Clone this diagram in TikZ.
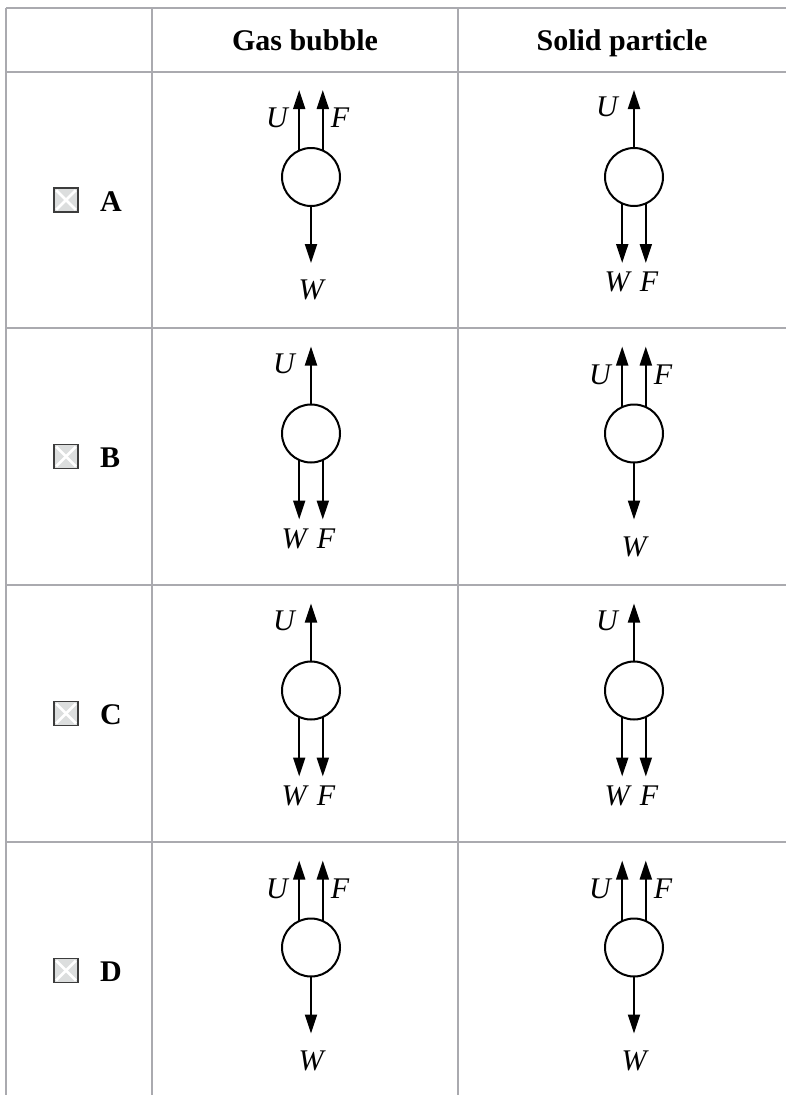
\documentclass[tikz,border=0pt]{standalone}
\usepackage{fontspec}
\setmainfont{Liberation Serif}
\usetikzlibrary{arrows.meta}

\definecolor{rulegray}{RGB}{170,170,175}
\definecolor{boxgray}{RGB}{220,222,222}
\definecolor{boxedge}{RGB}{60,60,60}

% two forces up (U, F), weight down
\newcommand{\updiagram}[3]{%
  \node[ball] (#1) at (#2,#3) {};
  \coordinate (#1U) at (#2-12,#3-87);
  \coordinate (#1F) at (#2+12,#3-87);
  \coordinate (#1W) at (#2,#3+86);
  \draw[force] (#1.114) -- (#1.114 |- #1U);
  \draw[force] (#1.66) -- (#1.66 |- #1F);
  \draw[force] (#1.south) -- (#1W);
  \node[lbl] (#1Ul) at (#2-34,#3-59) {U};
  \node[lbl] (#1Fl) at (#2+29,#3-59) {F};
  \node[lbl] (#1Wl) at (#2,#3+113) {W};
}
% one force up (U), weight and F down
\newcommand{\downdiagram}[3]{%
  \node[ball] (#1) at (#2,#3) {};
  \coordinate (#1U) at (#2,#3-87);
  \coordinate (#1W) at (#2-12,#3+86);
  \coordinate (#1F) at (#2+12,#3+86);
  \draw[force] (#1.north) -- (#1U);
  \draw[force] (#1.-114) -- (#1.-114 |- #1W);
  \draw[force] (#1.-66) -- (#1.-66 |- #1F);
  \node[lbl] (#1Ul) at (#2-27,#3-70) {U};
  \node[lbl] (#1Wl) at (#2-17,#3+105) {W};
  \node[lbl] (#1Fl) at (#2+15,#3+105) {F};
}
% answer box with letter
\newcommand{\option}[2]{%
  \node[optbox] (box#1) at (66,#2) {};
  \draw[white, line width=2.6pt, shorten <=4pt, shorten >=4pt] (box#1.north west) -- (box#1.south east);
  \draw[white, line width=2.6pt, shorten <=4pt, shorten >=4pt] (box#1.south west) -- (box#1.north east);
  \node[head, anchor=base west] (opt#1) at (100,#2+11) {#1};
}

\begin{document}
\begin{tikzpicture}[x=1pt, y=-1pt,
  rule/.style={draw=rulegray, line width=2.5pt},
  ball/.style={circle, draw, line width=2pt, minimum size=58pt, inner sep=0pt, outer sep=0pt},
  force/.style={line width=2pt, -{Triangle[length=19pt, width=12pt]}},
  lbl/.style={font=\fontsize{30}{36}\selectfont\itshape, inner sep=0pt},
  head/.style={font=\fontsize{30}{36}\selectfont\bfseries, inner sep=0pt},
  optbox/.style={rectangle, draw=boxedge, fill=boxgray, line width=1.4pt, minimum size=24pt, inner sep=0pt}]
  \useasboundingbox (0,0) rectangle (786,1095);

  % table rules
  \draw[rule] (6,8) -- (786,8);
  \foreach \y in {72,328,585,842}
    \draw[rule] (6,\y) -- (786,\y);
  \foreach \x in {6,152,458}
    \draw[rule] (\x,8) -- (\x,1095);

  % header
  \node[head, anchor=base] (gas) at (305,50) {Gas bubble};
  \node[head, anchor=base] (solid) at (622,50) {Solid particle};

  % options
  \option{A}{200}
  \option{B}{456.5}
  \option{C}{713.5}
  \option{D}{970.5}

  % force diagrams
  \updiagram{gasA}{311}{177}
  \downdiagram{solidA}{634}{177}
  \downdiagram{gasB}{311}{433.5}
  \updiagram{solidB}{634}{433.5}
  \downdiagram{gasC}{311}{690.5}
  \downdiagram{solidC}{634}{690.5}
  \updiagram{gasD}{311}{947.5}
  \updiagram{solidD}{634}{947.5}
\end{tikzpicture}
\end{document}
